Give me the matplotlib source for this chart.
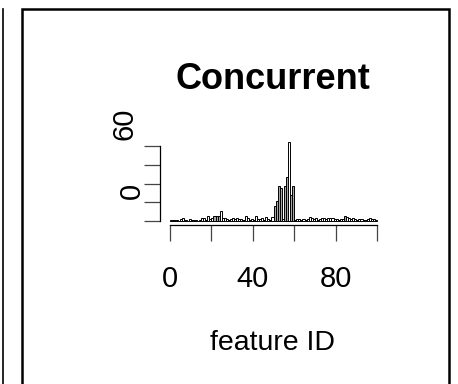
import matplotlib
matplotlib.use('Agg')
import matplotlib.pyplot as plt
from matplotlib.patches import Rectangle
from matplotlib.lines import Line2D

plt.rcParams['font.family'] = ['Liberation Sans', 'DejaVu Sans']

# counts per feature ID (bins 0..99, width 1)
feature_start = list(range(100))
counts = [1.5, 0.8, 1.5, 1.2, 0.5, 2.5, 3.0, 1.0, 0.5, 2.0,
          1.5, 1.5, 1.0, 0.5, 1.0, 3.6, 3.6, 1.5, 5.0, 2.5,
          3.5, 5.0, 5.7, 5.5, 10.7, 3.6, 3.6, 2.1, 1.5, 2.1,
          3.6, 2.1, 3.6, 2.0, 2.1, 1.5, 5.0, 3.0, 1.5, 2.1,
          1.0, 5.3, 2.1, 2.1, 3.0, 1.5, 3.8, 2.0, 1.0, 4.5,
          15.6, 21.0, 37.0, 35.5, 2.0, 37.0, 46.6, 84.0, 28.0, 37.0,
          1.0, 2.5, 2.5, 1.5, 2.5, 1.5, 2.0, 4.6, 3.5, 2.0,
          3.2, 1.5, 2.1, 3.2, 3.2, 2.1, 3.2, 3.6, 3.2, 2.0,
          2.1, 1.5, 2.1, 2.0, 5.0, 4.6, 3.6, 2.5, 3.2, 2.5,
          1.5, 2.5, 2.0, 1.0, 1.5, 2.5, 3.0, 2.0, 2.5, 1.5]
shaded = {21, 22, 23, 45, 50, 51, 52, 53, 55, 56, 58, 59, 84}
colors = ['#a8a8a8' if i in shaded else 'white' for i in feature_start]

x_ticks = [0, 20, 40, 60, 80, 100]
x_ticklabels = ['0', '', '40', '', '80', '']
y_ticks = [0, 20, 40, 60, 80]

W, H = 458, 384
fig = plt.figure(figsize=(W / 100, H / 100), dpi=100)

# panel frames
fig.add_artist(Rectangle((22 / W, -0.05), (449 - 22) / W, 1.05 - 9 / H,
                         transform=fig.transFigure, fill=False,
                         edgecolor='black', linewidth=1.8))
fig.add_artist(Line2D([3 / W, 3 / W], [0, 1 - 9 / H], transform=fig.transFigure,
                      color='black', linewidth=1.2))

ax = fig.add_axes([170 / W, (H - 221) / H, 207 / W, 75 / H])
ax.bar(feature_start, counts, width=1, align='edge', color=colors,
       edgecolor='black', linewidth=0.7, clip_on=False)
ax.set_xlim(0, 100)
ax.set_ylim(0, 80)

for s in ['top', 'right']:
    ax.spines[s].set_visible(False)
ax.spines['left'].set_position(('outward', 7.2))
ax.spines['bottom'].set_position(('outward', 2.9))
ax.spines['left'].set_bounds(0, 80)
ax.spines['bottom'].set_bounds(0, 100)
ax.spines['left'].set_linewidth(0.9)
ax.spines['bottom'].set_linewidth(0.9)

ax.set_xticks(x_ticks)
ax.set_xticklabels(x_ticklabels, fontsize=21)
ax.set_yticks(y_ticks)
ax.set_yticklabels([])
ax.tick_params(axis='both', length=11.5, width=0.9, color='#444444')
ax.tick_params(axis='x', pad=17)

# y labels as drawn in the original
fig.text(124 / W, 1 - 124 / H, '60', rotation=90, ha='center', va='center', fontsize=21)
fig.text(132 / W, 1 - 191 / H, '0', rotation=90, ha='center', va='center', fontsize=21)

fig.text(273 / W, 1 - 89 / H, 'Concurrent', ha='center', va='baseline',
         fontsize=26, fontweight='bold')
fig.text(273 / W, 1 - 350 / H, 'feature ID', ha='center', va='baseline', fontsize=20.5)

fig.savefig('out.png', dpi=100)
